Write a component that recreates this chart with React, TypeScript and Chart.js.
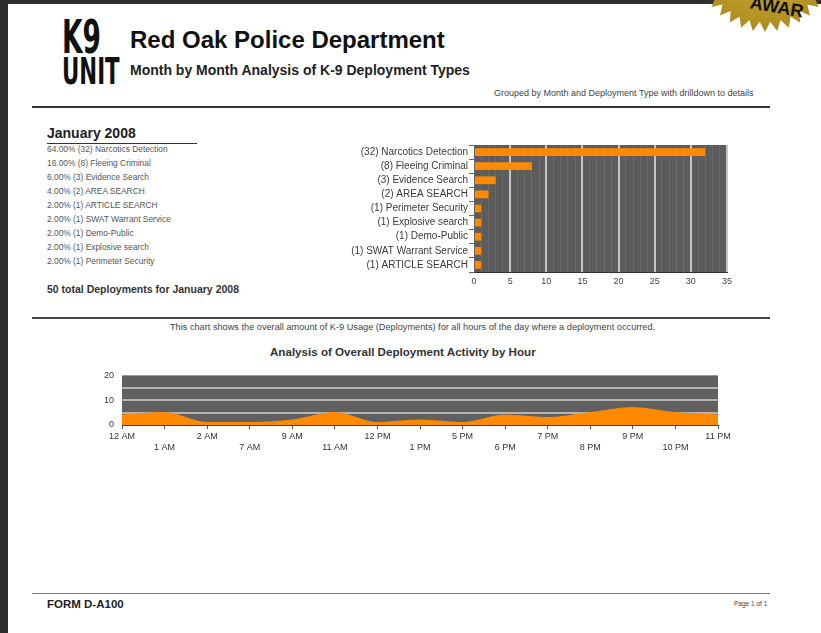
import React, { useEffect, useRef } from 'react';
import { Chart, registerables } from 'chart.js';

Chart.register(...registerables);

// ---------- data ----------
const deploymentTypes = [
  '(32) Narcotics Detection',
  '(8) Fleeing Criminal',
  '(3) Evidence Search',
  '(2) AREA SEARCH',
  '(1) Perimeter Security',
  '(1) Explosive search',
  '(1) Demo-Public',
  '(1) SWAT Warrant Service',
  '(1) ARTICLE SEARCH',
];
const deploymentCounts = [32, 8, 3, 2, 1, 1, 1, 1, 1];

const summaryNames = [
  'Narcotics Detection',
  'Fleeing Criminal',
  'Evidence Search',
  'AREA SEARCH',
  'ARTICLE SEARCH',
  'SWAT Warrant Service',
  'Demo-Public',
  'Explosive search',
  'Perimeter Security',
];
const summaryCounts = [32, 8, 3, 2, 1, 1, 1, 1, 1];
const summaryTotal = 50;

const hourLabels = ['12 AM', '1 AM', '2 AM', '7 AM', '9 AM', '11 AM', '12 PM', '1 PM', '5 PM', '6 PM', '7 PM', '8 PM', '9 PM', '10 PM', '11 PM'];
const hourCounts = [4, 5, 1, 1, 2, 5, 1, 2, 1, 4, 3, 5, 7, 5, 4];

const barTicks = [0, 5, 10, 15, 20, 25, 30, 35];
const hourTicks = [0, 10, 20];

// ---------- styles ----------
const ORANGE = '#ff8a00';
const FONT = '"Liberation Sans", Arial, sans-serif';
const NARROW = '"Liberation Sans Narrow", "DejaVu Sans Condensed", "Liberation Sans", sans-serif';

Chart.defaults.font.family = FONT;

const plotBg = (color: string) => ({
  id: 'plotBg',
  beforeDraw(chart: any) {
    const { ctx, chartArea } = chart;
    if (!chartArea) return;
    ctx.save();
    ctx.fillStyle = color;
    ctx.fillRect(chartArea.left, chartArea.top, chartArea.right - chartArea.left, chartArea.bottom - chartArea.top);
    ctx.restore();
  },
});

function BarChart() {
  const ref = useRef<HTMLCanvasElement | null>(null);
  useEffect(() => {
    if (!ref.current) return;
    const chart = new Chart(ref.current, {
      type: 'bar',
      data: {
        labels: deploymentTypes,
        datasets: [
          {
            data: deploymentCounts,
            backgroundColor: ORANGE,
            barPercentage: 0.55,
            categoryPercentage: 1,
          },
        ],
      },
      options: {
        indexAxis: 'y',
        responsive: false,
        animation: false,
        layout: { padding: { top: 7, right: 13, left: 0, bottom: 0 } },
        plugins: { legend: { display: false }, tooltip: { enabled: false } },
        scales: {
          x: {
            min: barTicks[0],
            max: barTicks[barTicks.length - 1],
            ticks: {
              stepSize: 1,
              autoSkip: false,
              maxRotation: 0,
              padding: 4,
              color: '#444',
              font: { size: 9 },
              callback: (v: any) => (barTicks.includes(Number(v)) ? String(v) : ''),
            },
            grid: {
              drawTicks: false,
              color: (c: any) => {
                const v = c.tick ? c.tick.value : 0;
                if (v === 0) return 'rgba(0,0,0,0)';
                return v % 5 === 0 ? '#c4c4c4' : '#6a6a6a';
              },
              lineWidth: (c: any) => {
                const v = c.tick ? c.tick.value : 0;
                return v % 5 === 0 ? 2 : 1;
              },
            },
            border: { display: true, color: '#333', width: 1 },
            afterFit: (s: any) => {
              s.height = 21;
            },
          },
          y: {
            ticks: { autoSkip: false, padding: 1, color: '#3a3a3a', font: { size: 10 } },
            grid: { drawOnChartArea: false, tickLength: 5, color: '#666' },
            border: { display: true, color: '#666' },
            afterFit: (s: any) => {
              s.width = 154;
            },
          },
        },
      },
      plugins: [plotBg('#5c5c5c')],
    } as any);
    return () => chart.destroy();
  }, []);
  return <canvas ref={ref} width={420} height={155} style={{ width: 420, height: 155, display: 'block' }} />;
}

function AreaChart() {
  const ref = useRef<HTMLCanvasElement | null>(null);
  useEffect(() => {
    if (!ref.current) return;
    const chart = new Chart(ref.current, {
      type: 'line',
      data: {
        labels: hourLabels,
        datasets: [
          {
            data: hourCounts,
            fill: 'origin',
            backgroundColor: ORANGE,
            borderColor: ORANGE,
            borderWidth: 1,
            pointRadius: 0,
            cubicInterpolationMode: 'monotone',
          },
        ],
      },
      options: {
        responsive: false,
        animation: false,
        layout: { padding: { top: 8, right: 22, left: 0, bottom: 0 } },
        plugins: { legend: { display: false }, tooltip: { enabled: false } },
        scales: {
          x: {
            offset: false,
            grid: { drawOnChartArea: false, tickLength: 4, color: '#555' },
            border: { display: true, color: '#444' },
            ticks: {
              autoSkip: false,
              maxRotation: 0,
              padding: 2,
              color: '#333',
              font: { size: 9 },
              callback: function (this: any, v: any, i: number) {
                const l = this.getLabelForValue(v);
                return i % 2 ? ['', l] : l;
              },
            },
            afterFit: (s: any) => {
              s.height = 37;
            },
          },
          y: {
            min: hourTicks[0],
            max: hourTicks[hourTicks.length - 1],
            ticks: {
              stepSize: 5,
              autoSkip: false,
              padding: 8,
              color: '#333',
              font: { size: 9 },
              callback: (v: any) => (hourTicks.includes(Number(v)) ? String(v) : ''),
            },
            grid: {
              drawTicks: false,
              lineWidth: 2,
              color: (c: any) => {
                const v = c.tick ? c.tick.value : 0;
                return v === 0 || v === 20 ? 'rgba(0,0,0,0)' : '#b4b4b4';
              },
            },
            border: { display: false },
            afterFit: (s: any) => {
              s.width = 32;
            },
          },
        },
      },
      plugins: [plotBg('#606060')],
    } as any);
    return () => chart.destroy();
  }, []);
  return <canvas ref={ref} width={650} height={100} style={{ width: 650, height: 100, display: 'block' }} />;
}

function Badge() {
  const left = 680;
  const top = -80;
  const cx = 765 - left;
  const cy = -38 - top;
  const n = 36;
  const pts: string[] = [];
  for (let i = 0; i < n * 2; i++) {
    const r = i % 2 === 0 ? 70 : 60;
    const a = (Math.PI * i) / n;
    pts.push(`${(cx + r * Math.cos(a)).toFixed(1)},${(cy + r * Math.sin(a)).toFixed(1)}`);
  }
  return (
    <svg width={160} height={120} style={{ position: 'absolute', left, top, overflow: 'hidden' }}>
      <defs>
        <radialGradient id="gold" cx="50%" cy="45%" r="60%">
          <stop offset="0%" stopColor="#d9b640" />
          <stop offset="100%" stopColor="#a8861a" />
        </radialGradient>
      </defs>
      <polygon points={pts.join(' ')} fill="url(#gold)" />
      <text x={777 - left} y={13 - top} fontFamily={FONT} fontWeight="bold" fontSize={18} fill="#111" transform={`rotate(10 ${777 - left} ${6 - top})`} textAnchor="middle">
        AWAR
      </text>
    </svg>
  );
}

const abs = (left: number, top: number, extra: React.CSSProperties = {}): React.CSSProperties => ({
  position: 'absolute',
  left,
  top,
  lineHeight: 1,
  whiteSpace: 'nowrap',
  fontFamily: FONT,
  ...extra,
});

export default function App() {
  return (
    <div style={{ position: 'absolute', left: 0, top: 0, width: 821, height: 633, background: '#fff', overflow: 'hidden', fontFamily: FONT, color: '#222' }}>
      <div style={{ position: 'absolute', left: 0, top: 0, width: 8, height: 633, background: '#2e2e2e' }} />
      <div style={{ position: 'absolute', left: 0, top: 0, width: 821, height: 4, background: '#2e2e2e' }} />
      <Badge />

      <div style={abs(62, 14, { fontFamily: NARROW, fontWeight: 'bold', fontSize: 46, transform: 'scaleX(0.64)', transformOrigin: 'left top', color: '#111' })}>K9</div>
      <div style={abs(62, 53, { fontFamily: NARROW, fontWeight: 'bold', fontSize: 37, transform: 'scaleX(0.64)', transformOrigin: 'left top', color: '#111' })}>UNIT</div>

      <div style={abs(130, 28, { fontWeight: 'bold', fontSize: 24, color: '#111' })}>Red Oak Police Department</div>
      <div style={abs(130, 63, { fontWeight: 'bold', fontSize: 14, color: '#222' })}>Month by Month Analysis of K-9 Deployment Types</div>
      <div style={abs(494, 89, { fontSize: 9, color: '#444' })}>Grouped by Month and Deployment Type with drilldown to details</div>

      <div style={{ position: 'absolute', left: 32, top: 106, width: 738, height: 2, background: '#333' }} />

      <div style={abs(47, 126, { fontWeight: 'bold', fontSize: 14, color: '#222' })}>January 2008</div>
      <div style={{ position: 'absolute', left: 47, top: 143, width: 150, height: 1, background: '#333' }} />
      {summaryNames.map((name, i) => (
        <div key={name} style={abs(47, 145 + i * 14, { fontSize: 8.4, color: '#555' })}>
          {`${((summaryCounts[i] / summaryTotal) * 100).toFixed(2)}% (${summaryCounts[i]}) ${name}`}
        </div>
      ))}
      <div style={abs(47, 284, { fontWeight: 'bold', fontSize: 10.5, color: '#333' })}>{`${summaryTotal} total Deployments for January 2008`}</div>

      <div style={{ position: 'absolute', left: 320, top: 138 }}>
        <BarChart />
      </div>

      <div style={{ position: 'absolute', left: 32, top: 317, width: 738, height: 2, background: '#444' }} />
      <div style={abs(170, 323, { fontSize: 9.2, color: '#444' })}>
        This chart shows the overall amount of K-9 Usage (Deployments) for all hours of the day where a deployment occurred.
      </div>
      <div style={abs(270, 346, { fontWeight: 'bold', fontSize: 11.6, color: '#333' })}>Analysis of Overall Deployment Activity by Hour</div>

      <div style={{ position: 'absolute', left: 90, top: 362 }}>
        <AreaChart />
      </div>

      <div style={{ position: 'absolute', left: 32, top: 593, width: 738, height: 1, background: '#777' }} />
      <div style={abs(47, 599, { fontWeight: 'bold', fontSize: 11.5, color: '#222' })}>FORM D-A100</div>
      <div style={abs(734, 601, { fontSize: 6.5, color: '#444' })}>Page 1 of 1</div>
    </div>
  );
}
